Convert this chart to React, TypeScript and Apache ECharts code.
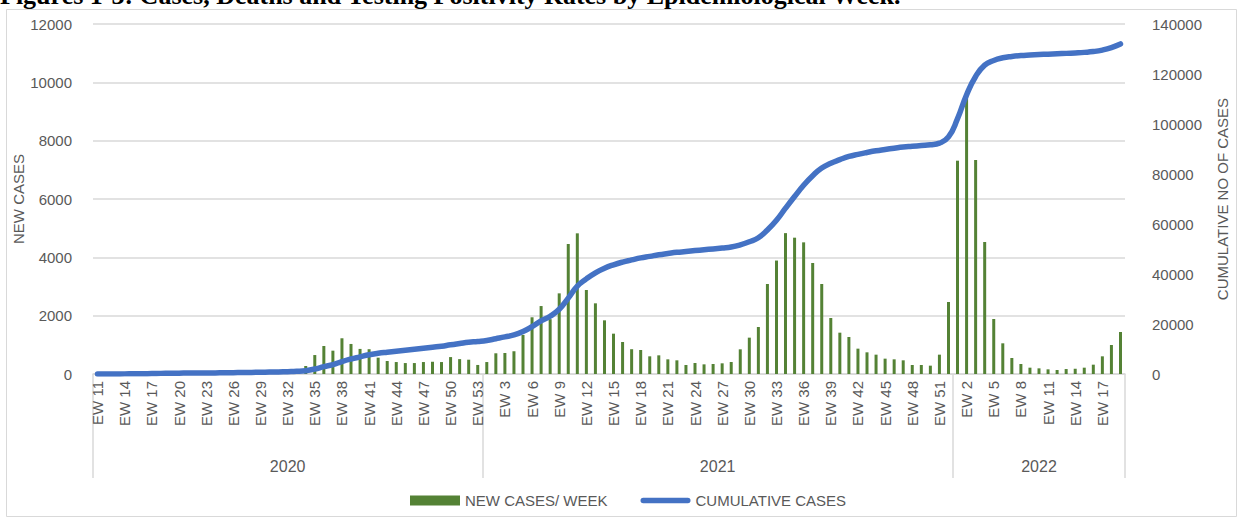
import React, { useEffect, useRef } from "react";
import * as echarts from "echarts";

// ---- Data ----
const years = ["2020", "2021", "2022"];
const weekStart = [11, 1, 1];
const weekEnd = [53, 52, 19];

const newCases2020 = [
  5, 10, 15, 20, 30, 40, 60, 70, 50, 40, 30, 25, 20, 30, 40, 45, 50, 55, 60, 70, 80, 90, 120,
  275, 650, 960, 800, 1225, 1030, 860, 850, 560, 445, 410, 375, 375, 410, 420, 410, 580, 510, 490, 310,
];
const newCases2021 = [
  410, 710, 720, 780, 1340, 1945, 2330, 1880, 2765, 4457,
  4823, 2880, 2423, 1840, 1383, 1097, 850, 823, 606, 640,
  503, 469, 309, 377, 331, 343, 366, 411, 846, 1246,
  1611, 3086, 3890, 4830, 4674, 4514, 3806, 3086, 1920, 1417,
  1269, 869, 743, 663, 526, 503, 469, 309, 309, 286,
  663, 2469,
];
const newCases2022 = [
  7314, 9550, 7337, 4526, 1886, 1052, 549, 343, 217, 194, 160, 137, 170, 180, 217, 320, 606, 994, 1440,
];

const cumulative2020 = [
  5, 15, 30, 50, 80, 120, 180, 250, 300, 340, 370, 395, 415, 445, 485, 530, 580, 635, 695, 765, 845, 935, 1055,
  1330, 1980, 2940, 3740, 4965, 5995, 6855, 7705, 8265, 8710, 9120, 9495, 9870, 10280, 10700, 11110, 11690,
  12200, 12690, 13000,
];
const cumulative2021 = [
  13410, 14120, 14840, 15620, 16960, 18905, 21235, 23115, 25880, 30337,
  35160, 38040, 40463, 42303, 43686, 44783, 45633, 46456, 47062, 47702,
  48205, 48674, 48983, 49360, 49691, 50034, 50400, 50811, 51657, 52903,
  54514, 57600, 61490, 66320, 70994, 75508, 79314, 82400, 84320, 85737,
  87006, 87875, 88618, 89281, 89807, 90310, 90779, 91088, 91397, 91683,
  92346, 94815,
];
const cumulative2022 = [
  102129, 111679, 119016, 123542, 125428, 126480, 127029, 127372, 127589, 127783,
  127943, 128080, 128250, 128430, 128647, 128967, 129573, 130567, 132007,
];

const leftTicks = { min: 0, max: 12000, interval: 2000 };
const rightTicks = { min: 0, max: 140000, interval: 20000 };

const BAR_NAME = "NEW CASES/ WEEK";
const LINE_NAME = "CUMULATIVE CASES";
const TITLE = "Figures 1-3: Cases, Deaths and Testing Positivity Rates by Epidemiological Week.";

// ---- Derived tables ----
const weekLabels: string[][] = years.map((_, i) => {
  const out: string[] = [];
  for (let w = weekStart[i]; w <= weekEnd[i]; w++) out.push("EW " + w);
  return out;
});
const categories = weekLabels.flat();
const newCases = [...newCases2020, ...newCases2021, ...newCases2022];
const cumulative = [...cumulative2020, ...cumulative2021, ...cumulative2022];

const groupBounds: number[] = [0];
weekLabels.forEach((g) => groupBounds.push(groupBounds[groupBounds.length - 1] + g.length));
const groupCenters = years.map((_, i) => (groupBounds[i] + groupBounds[i + 1]) / 2);

const GREY = "#595959";
const FONT = "Liberation Sans";
const plain = (v: number) => String(v);

export default function App() {
  const ref = useRef<HTMLDivElement>(null);

  useEffect(() => {
    if (!ref.current) return;
    const chart = echarts.init(ref.current, undefined, { renderer: "svg" });
    chart.setOption({
      animation: false,
      textStyle: { fontFamily: FONT },
      grid: { left: 93, right: 118, top: 24, bottom: 145, containLabel: false, outerBoundsMode: "none" },
      legend: {
        left: 405,
        top: 488,
        itemGap: 33,
        itemWidth: 50,
        itemHeight: 10,
        textStyle: { fontSize: 15, color: GREY, fontFamily: FONT },
        data: [
          { name: BAR_NAME, icon: "rect" },
          {
            name: LINE_NAME,
            icon: "path://M3,0 L53,0 A3,3 0 0 1 53,6 L3,6 A3,3 0 0 1 3,0 Z",
            itemStyle: { color: "#4472C4" },
          },
        ],
      },
      xAxis: [
        {
          type: "category",
          data: categories,
          boundaryGap: true,
          axisLine: { lineStyle: { color: "#d9d9d9", width: 1.5 } },
          axisTick: { show: false },
          axisLabel: { interval: 2, rotate: 90, fontSize: 15, color: GREY, margin: 7 },
        },
        {
          type: "value",
          min: 0,
          max: groupBounds[groupBounds.length - 1],
          position: "bottom",
          axisLine: { show: false },
          splitLine: { show: false },
          axisTick: {
            show: true,
            customValues: groupBounds,
            length: 104,
            lineStyle: { color: "#d9d9d9", width: 1.5 },
          },
          axisLabel: {
            customValues: groupCenters,
            formatter: (v: number) => {
              const i = groupCenters.indexOf(v);
              return i >= 0 ? years[i] : "";
            },
            fontSize: 16,
            color: GREY,
            margin: 84,
          },
        },
      ],
      yAxis: [
        {
          type: "value",
          ...leftTicks,
          name: "NEW CASES",
          nameLocation: "middle",
          nameGap: 67,
          nameRotate: 90,
          nameMoveOverlap: false,
          nameTextStyle: { fontSize: 15, color: GREY },
          axisLabel: { fontSize: 15, color: GREY, margin: 21, formatter: plain },
          splitLine: { lineStyle: { color: "#d9d9d9", width: 1.5 } },
          axisLine: { show: false },
          axisTick: { show: false },
        },
        {
          type: "value",
          ...rightTicks,
          position: "right",
          name: "CUMULATIVE NO OF CASES",
          nameLocation: "middle",
          nameGap: 90,
          nameRotate: 90,
          nameMoveOverlap: false,
          nameTextStyle: { fontSize: 15, color: GREY },
          axisLabel: { fontSize: 15, color: GREY, margin: 27, formatter: plain },
          splitLine: { show: false },
          axisLine: { show: false },
          axisTick: { show: false },
        },
      ],
      series: [
        {
          name: BAR_NAME,
          type: "bar",
          data: newCases,
          barWidth: 3,
          xAxisIndex: 0,
          yAxisIndex: 0,
          itemStyle: { color: "#548235" },
        },
        {
          name: LINE_NAME,
          type: "line",
          data: cumulative,
          xAxisIndex: 0,
          yAxisIndex: 1,
          smooth: true,
          symbol: "none",
          showSymbol: false,
          lineStyle: { color: "#4472C4", width: 5.5, cap: "round", join: "round" },
          itemStyle: { color: "#4472C4" },
        },
      ],
      graphic: [
        {
          type: "rect",
          silent: true,
          z: -10,
          shape: { x: 6.5, y: 9.5, width: 1230, height: 507 },
          style: { fill: "none", stroke: "#d9d9d9", lineWidth: 1 },
        },
      ],
    });
    return () => chart.dispose();
  }, []);

  return (
    <div
      style={{
        position: "fixed",
        left: 0,
        top: 0,
        width: 1243,
        height: 519,
        background: "#fff",
        overflow: "hidden",
      }}
    >
      <div ref={ref} style={{ position: "absolute", left: 0, top: 0, width: 1243, height: 519 }} />
      <div
        style={{
          position: "absolute",
          left: 0,
          top: -17,
          fontFamily: "'Liberation Serif', serif",
          fontWeight: "bold",
          fontSize: 26,
          lineHeight: "26px",
          whiteSpace: "nowrap",
          color: "#000",
        }}
      >
        {TITLE}
      </div>
    </div>
  );
}
